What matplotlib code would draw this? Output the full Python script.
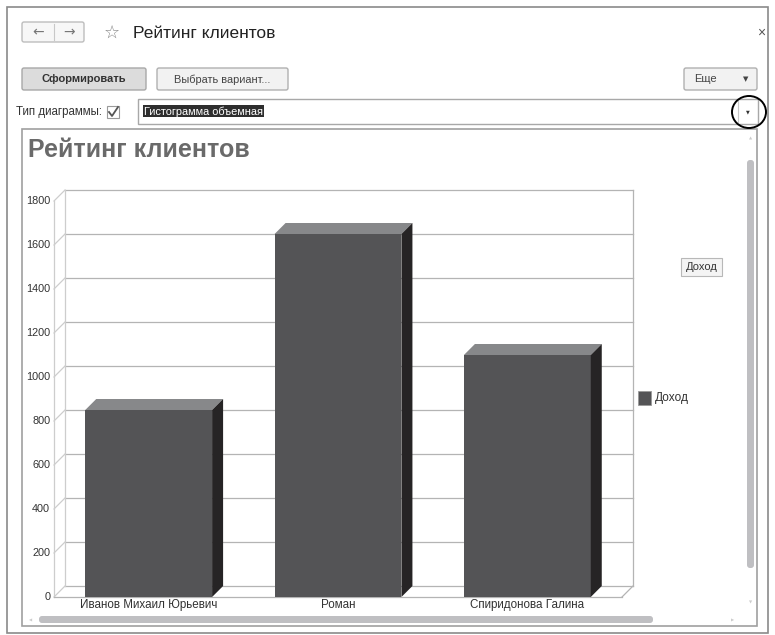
import numpy as np
import matplotlib
matplotlib.use("Agg")
import matplotlib.pyplot as plt
from matplotlib.patches import Rectangle, Polygon, FancyBboxPatch, Ellipse

plt.rcParams['font.family'] = ['Liberation Sans', 'DejaVu Sans']

# данные диаграммы
clients = ["Иванов Михаил Юрьевич", "Роман", "Спиридонова Галина"]
income = [850, 1650, 1100]
y_ticks = [0, 200, 400, 600, 800, 1000, 1200, 1400, 1600, 1800]
series_name = "Доход"
report_title = "Рейтинг клиентов"
chart_type = "Гистограмма объемная"

W, H = 775, 635
fig = plt.figure(figsize=(W / 100, H / 100), dpi=100)

# слой интерфейса в пикселях
ui = fig.add_axes([0, 0, 1, 1])
ui.set_xlim(0, W)
ui.set_ylim(H, 0)
ui.axis('off')

def box(x0, y0, x1, y1, fc, ec, lw=1.0, r=2, z=1):
    ui.add_patch(FancyBboxPatch((x0, y0), x1 - x0, y1 - y0,
                                boxstyle="round,pad=0,rounding_size=%s" % r,
                                fc=fc, ec=ec, lw=lw, zorder=z))

# рамка окна
ui.add_patch(Rectangle((7, 7), 761, 626, fc='white', ec='#8a8a8a', lw=1.2))

# навигация и заголовок
box(22, 22, 84, 42, '#f7f7f7', '#bdbdbd')
ui.plot([54, 54], [24, 40], color='#c8c8c8', lw=0.8)
ui.text(38, 32, "←", ha='center', va='center', fontsize=10, color='#777',
        family=['DejaVu Sans'])
ui.text(69, 32, "→", ha='center', va='center', fontsize=10, color='#777',
        family=['DejaVu Sans'])
ui.text(112, 33, "☆", ha='center', va='center', fontsize=13, color='#888',
        family=['DejaVu Sans'])
ui.text(133, 33, report_title, ha='left', va='center', fontsize=12.5, color='#222')
ui.text(761, 33, "×", ha='center', va='center', fontsize=10, color='#555')

# кнопки
box(22, 68, 146, 90, '#dcdcdc', '#a8a8a8')
ui.text(84, 79.5, "Сформировать", ha='center', va='center', fontsize=8,
        fontweight='bold', color='#333')
box(157, 68, 288, 90, '#f2f2f2', '#b0b0b0')
ui.text(222, 79.5, "Выбрать вариант...", ha='center', va='center', fontsize=7.9, color='#444')
box(684, 68, 757, 90, '#f2f2f2', '#b0b0b0')
ui.text(705, 79.5, "Еще", ha='center', va='center', fontsize=8, color='#444')
ui.text(746, 79.5, "▼", ha='center', va='center', fontsize=5, color='#444',
        family=['DejaVu Sans'])

# тип диаграммы
ui.text(16, 112, "Тип диаграммы:", ha='left', va='center', fontsize=8.3, color='#333')
ui.add_patch(Rectangle((107, 106), 12, 12, fc='white', ec='#9a9a9a', lw=0.8))
ui.plot([109, 112, 118], [112, 116, 107], color='#555', lw=1.3)
ui.add_patch(Rectangle((138, 99), 620, 25, fc='white', ec='#a8a8a8', lw=1.0))
ui.add_patch(Rectangle((143, 105), 121, 12, fc='#2e2e2e', ec='none'))
ui.text(144, 111.5, chart_type, ha='left', va='center', fontsize=7.9, color='white')
ui.plot([738, 738], [101, 122], color='#c8c8c8', lw=0.8)
ui.text(748, 112, "▼", ha='center', va='center', fontsize=3.5, color='#333',
        family=['DejaVu Sans'])
ui.add_patch(Ellipse((749, 112), 34, 32, fc='none', ec='black', lw=1.4, zorder=5))

# область диаграммы
ui.add_patch(Rectangle((22, 129), 735, 497, fc='white', ec='#a0a0a0', lw=1.2))
ui.text(28, 150, report_title, ha='left', va='center', fontsize=18,
        fontweight='bold', color='#6a6a6a')

# полосы прокрутки
box(747, 160, 754, 568, '#bfbfc2', 'none', r=3)
box(39, 616, 653, 623, '#bfbfc2', 'none', r=3)
ui.text(751, 139, "▲", ha='center', va='center', fontsize=3, color='#ccc', family=['DejaVu Sans'])
ui.text(751, 603, "▼", ha='center', va='center', fontsize=3, color='#ccc', family=['DejaVu Sans'])
ui.text(31, 620, "◀", ha='center', va='center', fontsize=3, color='#ccc', family=['DejaVu Sans'])
ui.text(733, 620, "▶", ha='center', va='center', fontsize=3, color='#ccc', family=['DejaVu Sans'])

# легенда
ui.add_patch(Rectangle((638, 391), 13, 14, fc='#545456', ec='#9a9a9a', lw=0.6))
ui.text(655, 398, series_name, ha='left', va='center', fontsize=8.6, color='#333')
ui.add_patch(Rectangle((681, 258), 41, 18, fc='#f4f4f4', ec='#b8b8b8', lw=0.8))
ui.text(701.5, 267, series_name, ha='center', va='center', fontsize=8, color='#333')

# сама диаграмма (передняя плоскость)
left, right, bottom, top = 54, 622, 597, 201
ax = fig.add_axes([left / W, 1 - bottom / H, (right - left) / W, (bottom - top) / H])
ax.set_xlim(-0.5, len(clients) - 0.5)
ax.set_ylim(0, y_ticks[-1])
ax.axis('off')
ax.patch.set_alpha(0)

x0, x1 = ax.get_xlim()
ymax = y_ticks[-1]
dx = 11 / ((right - left) / (x1 - x0))
dy = 11 / ((bottom - top) / ymax)

grid_c = '#b4b4b4'
wall_c = '#cdcdcd'

# задняя стенка
for v in y_ticks:
    ax.plot([x0 + dx, x1 + dx], [v + dy, v + dy], color=grid_c, lw=0.9, clip_on=False, zorder=1)
    ax.plot([x0, x0 + dx], [v, v + dy], color=wall_c, lw=0.9, clip_on=False, zorder=1)
    ax.text(x0 - 0.02, v, str(v), ha='right', va='center', fontsize=7.8, color='#333')
ax.plot([x0 + dx, x0 + dx], [dy, ymax + dy], color=wall_c, lw=0.9, clip_on=False, zorder=1)
ax.plot([x1 + dx, x1 + dx], [dy, ymax + dy], color=grid_c, lw=0.9, clip_on=False, zorder=1)
ax.plot([x0, x0], [0, ymax], color=wall_c, lw=0.9, clip_on=False, zorder=1)
# пол
ax.plot([x0, x1], [0, 0], color=grid_c, lw=0.9, clip_on=False, zorder=1)
ax.plot([x1, x1 + dx], [0, dy], color=grid_c, lw=0.9, clip_on=False, zorder=1)

# объемные столбцы
bw = 0.67
for i, (name, v) in enumerate(zip(clients, income)):
    l, r = i - bw / 2, i + bw / 2
    ax.add_patch(Rectangle((l, 0), bw, v, fc='#545456', ec='none', zorder=3, clip_on=False))
    ax.add_patch(Polygon([(l, v), (r, v), (r + dx, v + dy), (l + dx, v + dy)],
                         closed=True, fc='#87888a', ec='none', zorder=3, clip_on=False))
    ax.add_patch(Polygon([(r, 0), (r + dx, dy), (r + dx, v + dy), (r, v)],
                         closed=True, fc='#262425', ec='none', zorder=3, clip_on=False))
    ax.text(i, -35, name, ha='center', va='center', fontsize=8.4, color='#333')

fig.savefig("out.png", dpi=100)
